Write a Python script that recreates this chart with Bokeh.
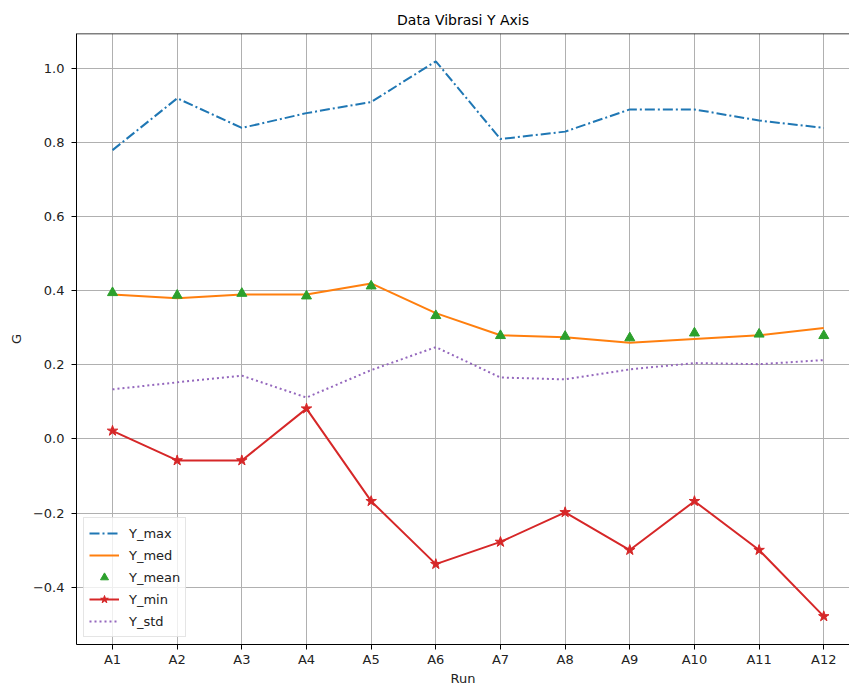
from bokeh.plotting import figure
from bokeh.models import (ColumnDataSource, FixedTicker, Range1d, Span,
                          Legend, LegendItem)
from bokeh.embed import file_html
from bokeh.resources import INLINE

runs = ["A1", "A2", "A3", "A4", "A5", "A6", "A7", "A8", "A9", "A10", "A11", "A12"]
y_max = [0.78, 0.92, 0.84, 0.88, 0.91, 1.02, 0.81, 0.83, 0.89, 0.89, 0.86, 0.84]
y_med = [0.39, 0.38, 0.39, 0.39, 0.42, 0.34, 0.28, 0.275, 0.26, 0.27, 0.28, 0.30]
y_mean = [0.395, 0.388, 0.393, 0.386, 0.413, 0.333, 0.279, 0.277, 0.273, 0.286, 0.283, 0.279]
y_min = [0.022, -0.058, -0.058, 0.082, -0.168, -0.338, -0.278, -0.198, -0.30, -0.168, -0.30, -0.479]
y_std = [0.134, 0.153, 0.171, 0.112, 0.186, 0.248, 0.166, 0.161, 0.188, 0.205, 0.202, 0.213]
y_ticks = [-0.4, -0.2, 0.0, 0.2, 0.4, 0.6, 0.8, 1.0]

x = list(range(len(runs)))
src = ColumnDataSource(dict(x=x, y_max=y_max, y_med=y_med, y_mean=y_mean,
                            y_min=y_min, y_std=y_std))

FONT = "DejaVu Sans"
Y_START, Y_END = -0.555, 1.095

p = figure(width=849, height=689, output_backend="svg", toolbar_location=None,
           x_range=Range1d(-0.557, 11.398), y_range=Range1d(Y_START, Y_END),
           min_border_left=76, min_border_right=0, min_border_top=33,
           min_border_bottom=45, title="Data Vibrasi Y Axis")
p.outline_line_color = None
p.background_fill_color = "white"
p.border_fill_color = "white"

p.title.align = "center"
p.title.text_font = FONT
p.title.text_font_size = "14px"
p.title.text_font_style = "normal"
p.title.text_color = "black"
p.title.standoff = 11

# grid
for g in (p.xgrid, p.ygrid):
    g.grid_line_color = "#b0b0b0"
    g.grid_line_width = 1

# x axis
xa = p.xaxis[0]
xa.ticker = FixedTicker(ticks=x)
xa.major_label_overrides = {i: r for i, r in enumerate(runs)}
xa.axis_label = "Run"
# y axis
ya = p.yaxis[0]
ya.ticker = FixedTicker(ticks=y_ticks)
ya.major_label_overrides = {t: (f"{t:.1f}".replace("-", "\u2212")) for t in y_ticks}
ya.axis_label = "G"

for ax in (xa, ya):
    ax.axis_line_color = "black"
    ax.axis_line_width = 1
    ax.major_tick_line_color = "black"
    ax.major_tick_out = 5
    ax.major_tick_in = 0
    ax.minor_tick_out = 0
    ax.minor_tick_in = 0
    ax.major_label_text_font = FONT
    ax.major_label_text_font_size = "13px"
    ax.major_label_text_color = "#222222"
    ax.axis_label_text_font = FONT
    ax.axis_label_text_font_size = "13px"
    ax.axis_label_text_font_style = "normal"
    ax.axis_label_text_color = "#222222"
xa.major_label_standoff = 2
xa.axis_label_standoff = 1
ya.major_label_standoff = 7
ya.axis_label_standoff = 6

# top spine
p.add_layout(Span(location=Y_END, dimension="width", line_color="black",
                  line_width=1.5))

r_max = p.line("x", "y_max", source=src, line_color="#1f77b4", line_width=2,
               line_dash="10 3 2 3")
r_med = p.line("x", "y_med", source=src, line_color="#ff7f0e", line_width=2)
r_mean = p.scatter("x", "y_mean", source=src, marker="triangle", size=10,
                   fill_color="#2ca02c", line_color="#2ca02c")
r_min_l = p.line("x", "y_min", source=src, line_color="#d62728", line_width=2)
r_min_s = p.scatter("x", "y_min", source=src, marker="star", size=11,
                    fill_color="#d62728", line_color="#d62728")
r_std = p.line("x", "y_std", source=src, line_color="#9467bd", line_width=2,
               line_dash="2 3")

legend = Legend(items=[
    LegendItem(label="Y_max", renderers=[r_max]),
    LegendItem(label="Y_med", renderers=[r_med]),
    LegendItem(label="Y_mean", renderers=[r_mean]),
    LegendItem(label="Y_min", renderers=[r_min_l, r_min_s]),
    LegendItem(label="Y_std", renderers=[r_std]),
], location="bottom_left")
legend.margin = 7
legend.padding = 5
legend.spacing = 2
legend.glyph_width = 30
legend.glyph_height = 20
legend.label_height = 20
legend.label_standoff = 10
legend.label_text_font = FONT
legend.label_text_font_size = "13px"
legend.label_text_color = "#222222"
legend.border_line_color = "#cccccc"
legend.border_line_width = 1
legend.background_fill_color = "white"
legend.background_fill_alpha = 0.8
p.add_layout(legend)

open("out.html", "w").write(file_html(p, INLINE))
